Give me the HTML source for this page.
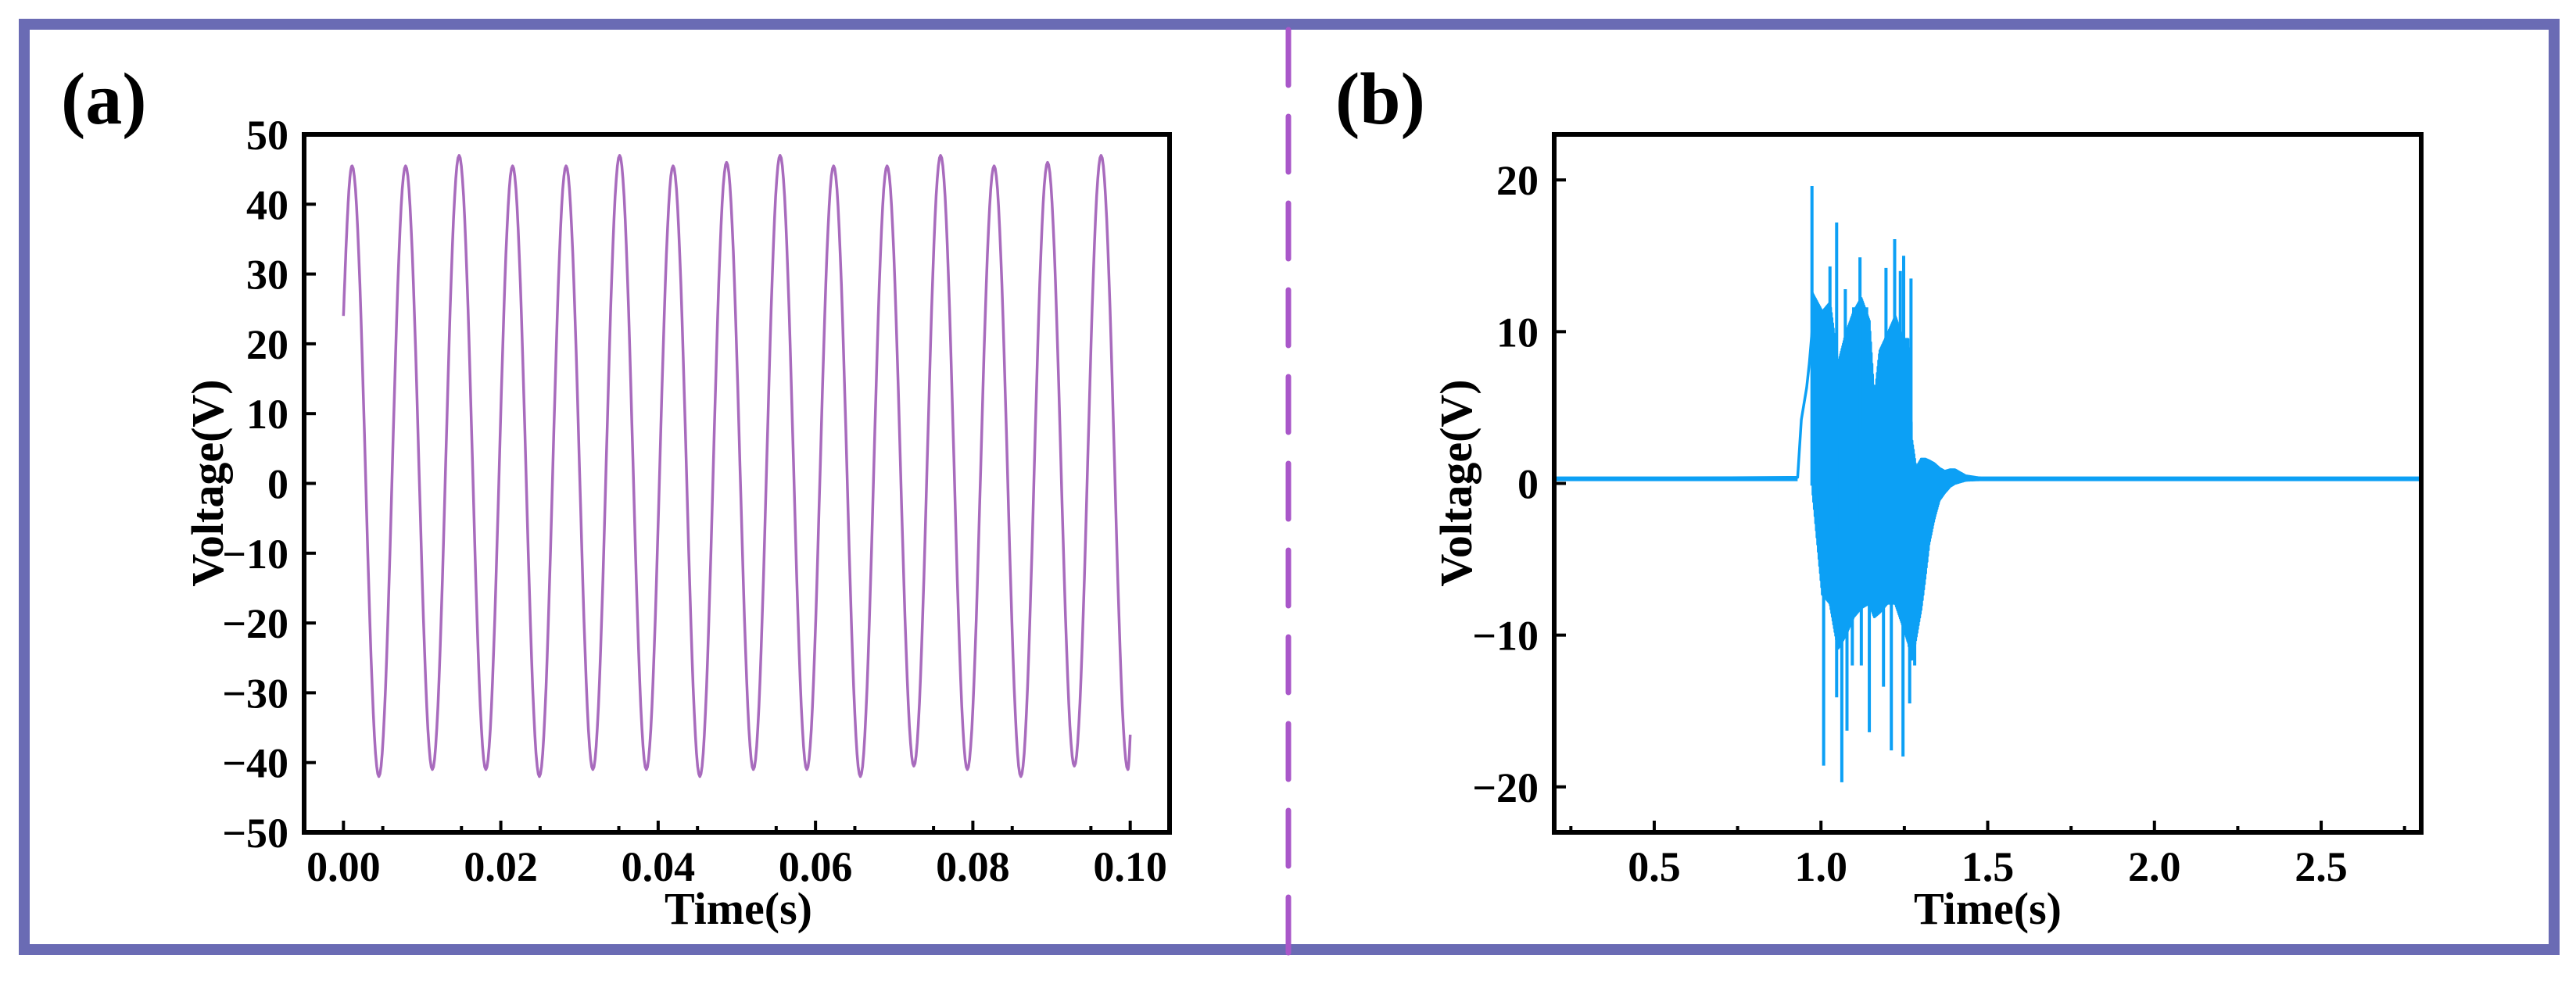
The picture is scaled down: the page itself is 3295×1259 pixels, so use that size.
<!DOCTYPE html>
<html><head><meta charset="utf-8"><style>
html,body{margin:0;padding:0;background:#fff;}
svg{display:block;}
text{font-family:"Liberation Serif",serif;font-weight:bold;fill:#000;}
</style></head><body>
<svg id="fig" width="3295" height="1259" viewBox="0 0 3295 1259" xmlns="http://www.w3.org/2000/svg">
<rect x="31" y="31" width="3236" height="1184" fill="none" stroke="#6a6bb4" stroke-width="14"/>
<line x1="1648" y1="38" x2="1648" y2="1220" stroke="#a957c9" stroke-width="7" stroke-dasharray="71 40" stroke-linecap="round"/>
<text x="78" y="158" font-size="94">(a)</text>
<text x="1708" y="158" font-size="94">(b)</text>
<g id="pa"></g>
<g id="pb"></g>
</svg>
<script>
// ---- Panel (a) data ----
const aYTicks = [50,40,30,20,10,0,-10,-20,-30,-40,-50];
const aXTicks = [0.00,0.02,0.04,0.06,0.08,0.10];
const aXTickLabels = ["0.00","0.02","0.04","0.06","0.08","0.10"];
const aPeakTimes = [0.0011,0.0079,0.0147,0.0215,0.0283,0.0351,0.0419,0.0487,0.0555,0.0623,0.0691,0.0759,0.0827,0.0895,0.0963];
const aPeakValues = [45.5,45.5,47,45.5,45.5,47,45.5,46,47,45.5,45.5,47,45.5,46,47];
const aTroughTimes = [0.0045,0.0113,0.0181,0.0249,0.0317,0.0385,0.0453,0.0521,0.0589,0.0657,0.0725,0.0793,0.0861,0.0929,0.0997];
const aTroughValues = [-42,-41,-41,-42,-41,-41,-42,-41,-41,-42,-40.5,-41,-42,-40.5,-41];
const aStart = [0, 24];
const aEnd = [0.1, -36];

// ---- Panel (b) data ----
const bYTicks = [20,10,0,-10,-20];
const bXTicks = [0.5,1.0,1.5,2.0,2.5];
const bXTickLabels = ["0.5","1.0","1.5","2.0","2.5"];
const bBaseline = 0.3;
const bRiseT = [0.2,0.93,0.941,0.957,0.965,0.975];
const bRiseV = [0.3,0.4,4.2,6.3,7.9,10.5];
const bEnvT = [0.975,1.004,1.027,1.051,1.074,1.098,1.121,1.145,1.160,1.176,1.199,1.223,1.246,1.262,1.273,1.285,1.301,1.313,1.324,1.340,1.355,1.371,1.387,1.402,1.434,1.48];
const bEnvUp = [12.5,11.3,11.9,7.8,9.8,11.3,12.2,10.7,5.4,8.7,9.8,11.0,9.5,9.5,2.8,1.0,1.6,1.6,1.5,1.3,1.0,0.8,0.9,0.9,0.5,0.35];
const bEnvLo = [-0.5,-7.3,-7.9,-10.9,-10.0,-8.8,-8.2,-7.9,-8.8,-8.5,-7.9,-7.9,-9.4,-10.5,-11.7,-10.2,-8.2,-6.1,-4.0,-2.3,-1.1,-0.6,-0.2,0.0,0.2,0.25];
const bSpikeT = [0.973,1.027,1.047,1.073,1.098,1.117,1.137,1.195,1.221,1.238,1.248,1.270,1.008,1.0625,1.047,1.078,1.094,1.121,1.145,1.1875,1.211,1.246,1.266,1.281];
const bSpikeV = [19.6,14.3,17.2,12.8,11.6,14.9,11.6,14.2,16.1,14.0,15.0,13.5,-18.6,-19.7,-14.1,-16.3,-12.0,-12.0,-16.4,-13.4,-17.6,-18.0,-14.5,-12.0];

const NS = "http://www.w3.org/2000/svg";
function mk(parent, tag, attrs){const e=document.createElementNS(NS,tag);for(const k in attrs)e.setAttribute(k,attrs[k]);parent.appendChild(e);return e;}
function interp(ts,vs,t){if(t<=ts[0])return vs[0];for(let i=1;i<ts.length;i++){if(t<=ts[i]){const f=(t-ts[i-1])/(ts[i]-ts[i-1]);return vs[i-1]+f*(vs[i]-vs[i-1]);}}return vs[vs.length-1];}

function axes(g, box, xs, ys, xTicks, xLabels, xMinor, yTicks, yLabels, lw){
  mk(g,'rect',{x:box.l,y:box.t,width:box.r-box.l,height:box.b-box.t,fill:'none',stroke:'#000','stroke-width':lw});
  xTicks.forEach((v,i)=>{
    const x=xs(v);
    const t=mk(g,'line',{x1:x,x2:x,y1:box.b,y2:box.b-15,stroke:'#000','stroke-width':4});
    
    
    const l=mk(g,'text',{x:x,y:box.b+62,'font-size':54,'text-anchor':'middle'});l.textContent=xLabels[i];
    
    
  });
  xMinor.forEach(v=>{const x=xs(v);const t=mk(g,'line',{x1:x,x2:x,y1:box.b,y2:box.b-8,stroke:'#000','stroke-width':4});
    
    });
  yTicks.forEach((v,i)=>{
    const y=ys(v);
    const t=mk(g,'line',{x1:box.l,x2:box.l+15,y1:y,y2:y,stroke:'#000','stroke-width':4});
    
    
    const l=mk(g,'text',{x:box.l-20,y:y+19,'font-size':54,'text-anchor':'end'});l.textContent=yLabels[i];
    
    
  });
}
function fmt(v){return v<0?'\u2212'+Math.abs(v):String(v);}

// ---- Panel (a) ----
(function(){
  const g=document.getElementById('pa');
  const box={l:389,r:1496,t:172,b:1065};
  const xs=v=>box.l+(v+0.005)/0.11*(box.r-box.l);
  const ys=v=>box.t+(50-v)/100*(box.b-box.t);
  const ext=[aStart];
  for(let i=0;i<aPeakTimes.length;i++){ext.push([aPeakTimes[i],aPeakValues[i]]);ext.push([aTroughTimes[i],aTroughValues[i]]);}
  ext.sort((a,b)=>a[0]-b[0]);
  let pts=[];
  for(let k=0;k<ext.length-1;k++){
    const [t0,v0]=ext[k],[t1,v1]=ext[k+1];
    const n=24;
    for(let j=0;j<n;j++){
      const f=j/n;let w;
      if(k===0){ w=Math.sin(f*Math.PI/2); } else w=(1-Math.cos(f*Math.PI))/2;
      pts.push([t0+(t1-t0)*f, v0+(v1-v0)*w]);
    }
  }
  const [tl,vl]=ext[ext.length-1];
  for(let j=0;j<=10;j++){const f=j/10;const t=tl+(aEnd[0]-tl)*f;pts.push([t,vl+(aEnd[1]-vl)*(1-Math.cos(f*Math.PI/2))]);}
  const d=pts.filter(p=>p[0]<=aEnd[0]+1e-9).map((p,i)=>(i?'L':'M')+xs(p[0]).toFixed(1)+' '+ys(p[1]).toFixed(1)).join('');
  const path=mk(g,'path',{d:d,fill:'none',stroke:'#a86bbd','stroke-width':3.5,'stroke-linejoin':'round'});
  
  
  const minor=[];for(let v=0.005;v<0.1;v+=0.01)minor.push(v);
  axes(g,box,xs,ys,aXTicks,aXTickLabels,minor,aYTicks,aYTicks.map(fmt),6);
  const xt=mk(g,'text',{x:(box.l+box.r)/2+2,y:1182,'font-size':58,'text-anchor':'middle'});xt.textContent='Time(s)';
  
  
  const yt=mk(g,'text',{x:0,y:0,'font-size':58,'text-anchor':'middle',transform:'translate(285,618) rotate(-90)'});yt.textContent='Voltage(V)';
  
  
})();

// ---- Panel (b) ----
(function(){
  const g=document.getElementById('pb');
  const box={l:1988,r:3097,t:172,b:1065};
  const xs=v=>box.l+(v-0.2)/2.6*(box.r-box.l);
  const ys=v=>box.t+(23-v)/46*(box.b-box.t);
  let pts=[];
  bRiseT.forEach((t,i)=>pts.push([t,bRiseV[i]]));
  let up=true;
  for(let t=bEnvT[0];t<=bEnvT[bEnvT.length-1];t+=0.001){
    pts.push([t, up?interp(bEnvT,bEnvUp,t):interp(bEnvT,bEnvLo,t)]);up=!up;
  }
  pts.push([1.5,bBaseline+0.05]);pts.push([2.8,bBaseline]);
  const d=pts.map((p,i)=>(i?'L':'M')+xs(p[0]).toFixed(1)+' '+ys(p[1]).toFixed(1)).join('');
  const path=mk(g,'path',{d:d,fill:'none',stroke:'#0ca0f5','stroke-width':3.5,'stroke-linejoin':'round'});
  
  
  const base=mk(g,'line',{x1:xs(0.2),x2:xs(0.93),y1:ys(bBaseline),y2:ys(bBaseline),stroke:'#0ca0f5','stroke-width':6});
  
  
  const base2=mk(g,'line',{x1:xs(1.45),x2:xs(2.8),y1:ys(bBaseline),y2:ys(bBaseline),stroke:'#0ca0f5','stroke-width':6});
  
  
  bSpikeT.forEach((t,i)=>{
    const b0=interp(bEnvT,bSpikeV[i]>0?bEnvLo:bEnvUp,t)*0.3;
    const s=mk(g,'line',{x1:xs(t),x2:xs(t),y1:ys(b0),y2:ys(bSpikeV[i]),stroke:'#0ca0f5','stroke-width':4});
    
    
  });
  const minor=[];for(let v=0.25;v<2.8;v+=0.5)minor.push(v);
  axes(g,box,xs,ys,bXTicks,bXTickLabels,minor,bYTicks,bYTicks.map(fmt),6);
  const xt=mk(g,'text',{x:(box.l+box.r)/2,y:1182,'font-size':58,'text-anchor':'middle'});xt.textContent='Time(s)';
  
  
  const yt=mk(g,'text',{x:0,y:0,'font-size':58,'text-anchor':'middle',transform:'translate(1882,618) rotate(-90)'});yt.textContent='Voltage(V)';
  
  
})();
</script>
</body></html>
